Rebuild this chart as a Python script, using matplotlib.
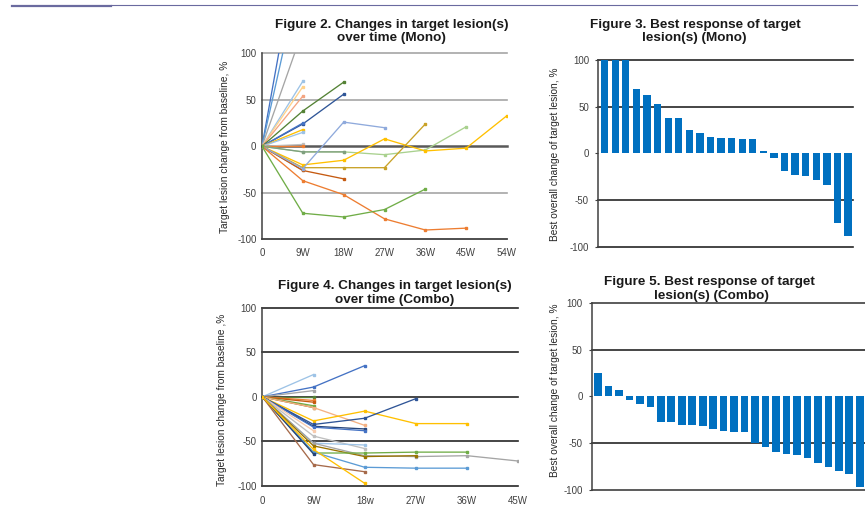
import numpy as np
import matplotlib
matplotlib.use("Agg")
import matplotlib.pyplot as plt

plt.rcParams['font.family'] = ['Liberation Sans', 'DejaVu Sans']

W, H = 865, 505
nan = np.nan

# ---------------- data ----------------
mono_weeks = ["0", "9W", "18W", "27W", "36W", "45W", "54W"]
mono_lines = [
    ("#4472C4", [0, 244]),
    ("#5B9BD5", [0, 197]),
    ("#A5A5A5", [0, 125]),
    ("#9DC3E6", [0, 70]),
    ("#FFD28A", [0, 64]),
    ("#F4A582", [0, 54]),
    ("#548235", [0, 38, 69]),
    ("#2F5597", [0, 24, 56]),
    ("#4472C4", [0, 25]),
    ("#FFC000", [0, 18]),
    ("#9DC3E6", [0, 15]),
    ("#BFBFBF", [0, 2]),
    ("#ED7D31", [0, 0]),
    ("#A9D18E", [0, -6, -6, -9, -4, 21]),
    ("#7F9F7F", [0, -6, -6]),
    ("#FFC000", [0, -20, -15, 8, -5, -2, 33]),
    ("#C9A227", [0, -23, -23, -23, 24]),
    ("#A5A5A5", [0, -26]),
    ("#C55A11", [0, -26, -35]),
    ("#8FAADC", [0, -24, 26, 20]),
    ("#ED7D31", [0, -37, -52, -78, -90, -88]),
    ("#70AD47", [0, -72, -76, -68, -46]),
]

mono_best = [100, 100, 100, 69, 63, 53, 38, 38, 25, 22, 17, 16, 16, 15, 15,
             3, -5, -19, -23, -24, -29, -34, -75, -89]

combo_weeks = ["0", "9W", "18w", "27W", "36W", "45W"]
combo_lines = [
    ("#9DC3E6", [0, 25]),
    ("#4472C4", [0, 11, 35]),
    ("#A5A5A5", [0, 7]),
    ("#548235", [0, 0]),
    ("#ED7D31", [0, -4]),
    ("#C55A11", [0, -6]),
    ("#70AD47", [0, -10]),
    ("#7F6000", [0, -12]),
    ("#F4B183", [0, -12, -32]),
    ("#FFC000", [0, -27, -16, -30, -30]),
    ("#2F5597", [0, -31, -24, -2]),
    ("#264478", [0, -33, -36]),
    ("#4472C4", [0, -34, -38]),
    ("#F8CBAD", [0, -38]),
    ("#BFBFBF", [0, -44, -58]),
    ("#9DC3E6", [0, -52, -54]),
    ("#A5A5A5", [0, -52, -66, -67, -66, -72]),
    ("#997300", [0, -55, -67, -66]),
    ("#70AD47", [0, -63, -63, -62, -62]),
    ("#5B9BD5", [0, -62, -79, -80, -80]),
    ("#264478", [0, -64]),
    ("#A66A4A", [0, -76, -84]),
    ("#FFC000", [0, -59, -97]),
]

combo_best = [25, 11, 7, -4, -8, -11, -27, -28, -31, -31, -32, -35, -37, -38, -38,
              -50, -54, -60, -62, -63, -66, -72, -76, -80, -83, -97]

yticks = [-100, -50, 0, 50, 100]

# ---------------- figure ----------------
fig = plt.figure(figsize=(W / 100, H / 100), dpi=100)


def ax_px(left, top, right, bottom):
    return fig.add_axes([left / W, 1 - bottom / H, (right - left) / W, (bottom - top) / H])


def ftext(x, y, s, **kw):
    fig.text(x / W, 1 - y / H, s, **kw)


TICKC = "#404040"
TITLE_FS = 9.7
YL_FS = 7.3


def style_axes(ax, grid_colors, grid_lw):
    for sp in ["top", "right", "bottom"]:
        ax.spines[sp].set_visible(False)
    ax.spines["left"].set_color("#404040")
    ax.spines["left"].set_linewidth(1.1)
    ax.set_ylim(-100, 100)
    ax.set_yticks(yticks)
    ax.set_yticklabels([str(t) for t in yticks])
    for val, c, lw in zip(yticks, grid_colors, grid_lw):
        if c is not None:
            ax.axhline(val, color=c, lw=lw, zorder=0.5, clip_on=False)
    ax.tick_params(axis="y", length=0, pad=4, labelsize=7, labelcolor=TICKC)


def line_chart(ax, weeks, lines):
    for color, vals in lines:
        x = np.arange(len(vals))
        ax.plot(x, vals, color=color, lw=0.95, marker="s", ms=1.7,
                mec=color, mfc=color, zorder=3, clip_on=True)
    ax.set_xlim(0, len(weeks) - 1)
    ax.set_xticks(np.arange(len(weeks)))
    ax.set_xticklabels(weeks)
    ax.tick_params(axis="x", length=0, pad=6, labelsize=7, labelcolor=TICKC)


def bar_chart(ax, vals, width, xl):
    ax.bar(np.arange(len(vals)), np.clip(vals, -100, 100), width=width,
           color="#0070C0", zorder=2)
    ax.set_xlim(*xl)
    ax.set_xticks([])
    ax.tick_params(axis="y", length=2.5, color="#404040", width=0.8)


# top rules
fig.add_artist(plt.Line2D([12 / W, 111 / W], [1 - 5.6 / H] * 2, color="#6A6A9F", lw=1.6))
fig.add_artist(plt.Line2D([111 / W, 857 / W], [1 - 5.2 / H] * 2, color="#6A6A9F", lw=0.8))

# ---- Figure 2 ----
ax2 = ax_px(262, 53.3, 507, 239.3)
style_axes(ax2, ["#404040", "#A6A6A6", "#595959", "#A6A6A6", "#A6A6A6"],
           [1.3, 1.2, 1.8, 1.2, 1.2])
line_chart(ax2, mono_weeks, mono_lines)
ftext(225, 146.5, "Target lesion change from baseline, %", rotation=90,
      ha="center", va="center", fontsize=YL_FS, color="#262626")
ftext(391.5, 28, "Figure 2. Changes in target lesion(s)", ha="center", va="baseline",
      fontsize=TITLE_FS, fontweight="bold", color="#1a1a1a")
ftext(391.5, 41.5, "over time (Mono)", ha="center", va="baseline",
      fontsize=TITLE_FS, fontweight="bold", color="#1a1a1a")

# ---- Figure 3 ----
ax3 = ax_px(598, 60, 853, 246.7)
style_axes(ax3, ["#262626", "#262626", None, "#262626", "#262626"],
           [1.2, 1.2, 1.2, 1.2, 1.2])
bar_chart(ax3, mono_best, 0.69, (-0.63, 23.47))
ftext(555, 154, "Best overall change of target lesion, %", rotation=90,
      ha="center", va="center", fontsize=YL_FS, color="#262626")
ftext(695, 28, "Figure 3. Best response of target", ha="center", va="baseline",
      fontsize=TITLE_FS, fontweight="bold", color="#1a1a1a")
ftext(694, 41.5, "lesion(s) (Mono)", ha="center", va="baseline",
      fontsize=TITLE_FS, fontweight="bold", color="#1a1a1a")

# ---- Figure 4 ----
ax4 = ax_px(262.3, 307.7, 518.3, 486)
style_axes(ax4, ["#262626", "#262626", "#262626", "#262626", "#262626"],
           [1.2, 1.2, 1.2, 1.2, 1.2])
line_chart(ax4, combo_weeks, combo_lines)
ax4.tick_params(axis="x", pad=7)
ftext(222, 400, "Target lesion change from baseline ,%", rotation=90,
      ha="center", va="center", fontsize=YL_FS, color="#262626")
ftext(395, 289, "Figure 4. Changes in target lesion(s)", ha="center", va="baseline",
      fontsize=TITLE_FS, fontweight="bold", color="#1a1a1a")
ftext(395, 303, "over time (Combo)", ha="center", va="baseline",
      fontsize=TITLE_FS, fontweight="bold", color="#1a1a1a")

# ---- Figure 5 ----
ax5 = ax_px(591.7, 303.3, 890, 489.5)
style_axes(ax5, ["#404040", "#262626", None, "#262626", "#404040"],
           [1.2, 1.2, 1.2, 1.2, 1.2])
bar_chart(ax5, combo_best, 0.73, (-0.6, (890 - 591.7) / 10.47 - 0.6))
ftext(555, 390, "Best overall change of target lesion, %", rotation=90,
      ha="center", va="center", fontsize=YL_FS, color="#262626")
ftext(709.5, 284.5, "Figure 5. Best response of target", ha="center", va="baseline",
      fontsize=TITLE_FS, fontweight="bold", color="#1a1a1a")
ftext(711, 299, "lesion(s) (Combo)", ha="center", va="baseline",
      fontsize=TITLE_FS, fontweight="bold", color="#1a1a1a")

fig.savefig("out.png", dpi=100)
